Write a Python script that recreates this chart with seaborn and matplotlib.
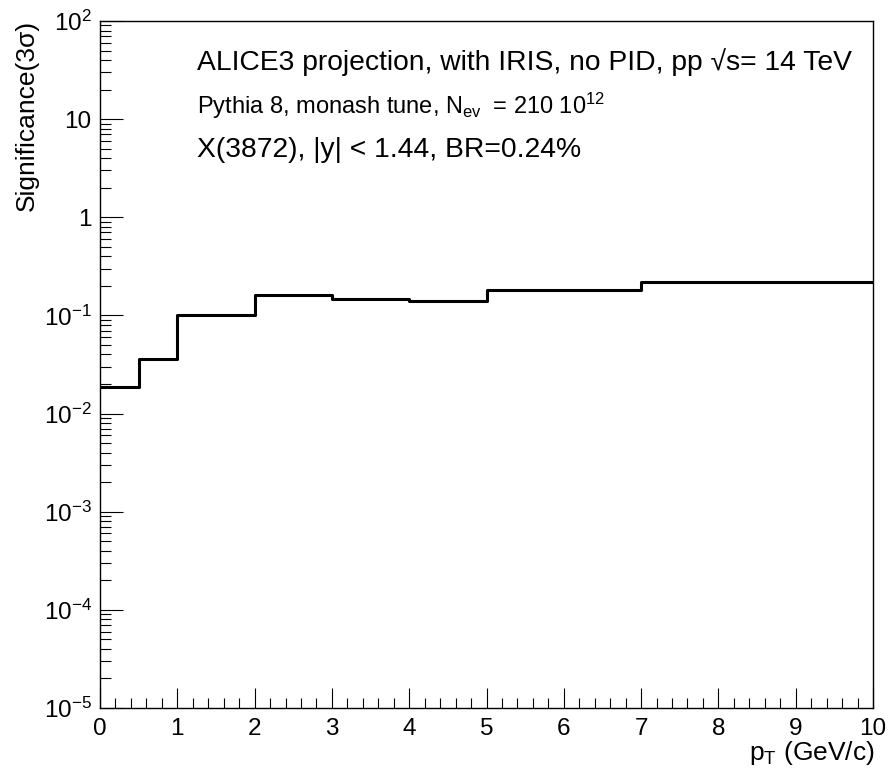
import numpy as np
import pandas as pd
import matplotlib
matplotlib.use("Agg")
import matplotlib.pyplot as plt
import matplotlib.ticker as mticker
import seaborn as sns

# ---- data ----
bin_edges = [0, 0.5, 1, 2, 3, 4, 5, 7, 10]
significance = [0.0188, 0.036, 0.101, 0.161, 0.146, 0.140, 0.180, 0.217]
y_tick_values = [1e-5, 1e-4, 1e-3, 1e-2, 1e-1, 1, 10, 100]
y_tick_labels = [r"10$^{-5}$", r"10$^{-4}$", r"10$^{-3}$", r"10$^{-2}$", r"10$^{-1}$", "1", "10", r"10$^{2}$"]
x_tick_values = list(range(0, 11))

sns.set_style("ticks")
plt.rcParams["font.family"] = ["Liberation Sans", "DejaVu Sans"]
plt.rcParams["mathtext.fontset"] = "custom"
plt.rcParams["mathtext.rm"] = "Liberation Sans"
plt.rcParams["mathtext.it"] = "Liberation Sans:italic"
plt.rcParams["mathtext.default"] = "regular"
plt.rcParams["text.color"] = "black"
plt.rcParams["xtick.color"] = "black"
plt.rcParams["ytick.color"] = "black"

W, H = 891, 773
fig = plt.figure(figsize=(W / 100, H / 100), dpi=100)
ax = fig.add_axes([100 / W, (H - 708) / H, (873 - 100) / W, (708 - 21) / H])

df = pd.DataFrame({"pt": bin_edges, "sig": significance + [significance[-1]]})
sns.lineplot(data=df, x="pt", y="sig", drawstyle="steps-post", color="black",
             linewidth=2.2, ax=ax, sort=False)

ax.set_yscale("log")
ax.set_xlim(0, 10)
ax.set_ylim(1e-5, 1e2)

ax.set_yticks(y_tick_values)
ax.set_yticklabels(y_tick_labels)
ax.yaxis.set_minor_locator(mticker.LogLocator(base=10, subs=np.arange(2, 10), numticks=20))
ax.yaxis.set_minor_formatter(mticker.NullFormatter())
ax.set_xticks(x_tick_values)
ax.set_xticklabels([str(v) for v in x_tick_values])
ax.xaxis.set_minor_locator(mticker.MultipleLocator(0.2))

ax.tick_params(axis="both", which="both", direction="in", colors="black", width=0.8)
ax.tick_params(axis="y", which="major", length=16.5, labelsize=17.5, pad=6)
ax.tick_params(axis="y", which="minor", length=8)
ax.tick_params(axis="x", which="major", length=14.4, labelsize=17.5, pad=7)
ax.tick_params(axis="x", which="minor", length=7)
ax.tick_params(top=False, right=False, which="both")
for lbl in ax.get_xticklabels() + ax.get_yticklabels():
    lbl.set_color("black")
for s in ax.spines.values():
    s.set_visible(True)
    s.set_linewidth(1.0)
    s.set_color("black")

ax.set_xlabel("")
ax.set_ylabel("")

fig.text(27 / W, 1 - 20 / H, "Significance(3σ)", rotation=90, ha="center", va="top",
         fontsize=19, color="black")
fig.text(875 / W, 1 - 753 / H, r"p$_{\rm T}$ (GeV/c)", ha="right", va="center",
         fontsize=19, color="black")

fig.text(197 / W, 1 - 62 / H, "ALICE3 projection, with IRIS, no PID, pp \u221As= 14 TeV",
         ha="left", va="center", fontsize=20.3, color="black")
fig.text(197 / W, 1 - 106 / H, r"Pythia 8, monash tune, N$_{\rm ev}\;$ = 210 10$^{12}$",
         ha="left", va="center", fontsize=17, color="black")
fig.text(197 / W, 1 - 150 / H, "X(3872), |y| < 1.44, BR=0.24%",
         ha="left", va="center", fontsize=20.3, color="black")

fig.savefig("out.png", dpi=100)
